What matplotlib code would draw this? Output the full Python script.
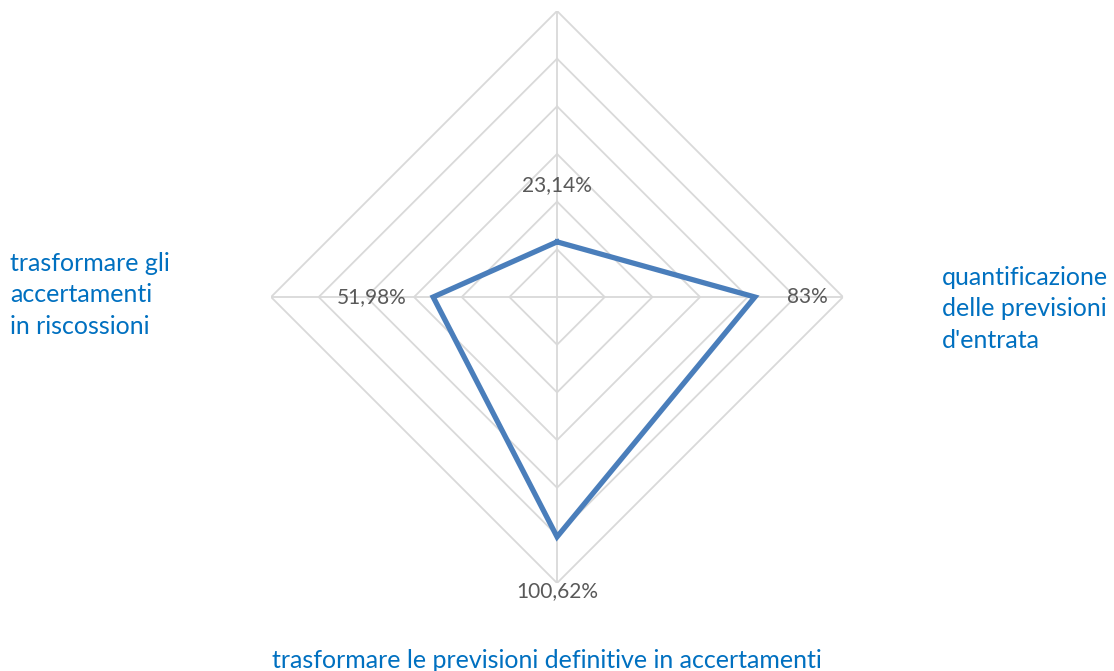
import matplotlib
matplotlib.use("Agg")
import matplotlib.pyplot as plt
import numpy as np

plt.rcParams['font.family'] = ['Lato', 'DejaVu Sans']

# categories clockwise from the top
categories = ['', 'quantificazione\ndelle previsioni\nd\'entrata',
              'trasformare le previsioni definitive in accertamenti',
              'trasformare gli\naccertamenti\nin riscossioni']
values = [0.2314, 0.83, 1.0062, 0.5198]
value_labels = ['23,14%', '83%', '100,62%', '51,98%']
rings = [0.2, 0.4, 0.6, 0.8, 1.0, 1.2]

grid_col = '#d9d9d9'
line_col = '#4a7ebb'
cat_col = '#0070c0'
lbl_col = '#595959'

fig = plt.figure(figsize=(11.14, 6.71), dpi=100)
ax = fig.add_axes([0.2433, 0.1311, 0.5135, 0.8525], projection='polar')
ax.set_theta_zero_location('N')
ax.set_theta_direction(-1)
ax.set_ylim(0, 1.2)
ax.grid(False)
ax.spines['polar'].set_visible(False)
ax.set_xticks([])
ax.set_yticks([])
ax.patch.set_alpha(0)

theta = np.linspace(0, 2 * np.pi, len(categories), endpoint=False)
theta_c = np.append(theta, theta[0])

# diamond grid
for r in rings:
    ax.plot(theta_c, [r] * len(theta_c), color=grid_col, lw=1.3, zorder=1)
for t in theta:
    ax.plot([t, t], [0, 1.2], color=grid_col, lw=1.3, zorder=1)

ax.plot(theta_c, values + values[:1], color=line_col, lw=3.8,
        solid_joinstyle='miter', zorder=3)

# value labels
offsets = [(0, 41), (38, 0), (0, -39), (-44, 0)]
for t, v, s, off in zip(theta, values, value_labels, offsets):
    ax.annotate(s, (t, v), xytext=off, textcoords='offset points',
                ha='center', va='center', fontsize=15, color=lbl_col,
                annotation_clip=False)

# category labels
fig.text(10 / 1114, 1 - 295 / 671, categories[3], ha='left', va='center',
         fontsize=18, color=cat_col, linespacing=1.45)
fig.text(942 / 1114, 1 - 309 / 671, categories[1], ha='left', va='center',
         fontsize=18, color=cat_col, linespacing=1.45)
fig.text(547 / 1114, 1 - 660 / 671, categories[2], ha='center', va='center',
         fontsize=18, color=cat_col)

fig.savefig('out.png', dpi=100)
